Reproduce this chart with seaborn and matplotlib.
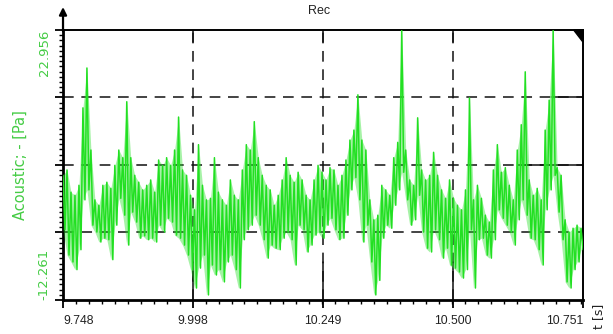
import numpy as np
import pandas as pd
import matplotlib
matplotlib.use("Agg")
import matplotlib.pyplot as plt
from matplotlib.ticker import AutoMinorLocator, FixedLocator
from matplotlib.patches import Polygon
import seaborn as sns

# Acoustic pressure record: local maxima / minima of the signal, in Pa,
# taken pairwise along the time window.
peaks = [4.0, 4.7, 1.8, 1.4, 2.7, 12.8, 18.0, 7.3, 0.8, 0.1,
         2.7, 3.1, 2.3, 5.3, 7.3, 6.3, 13.6, 6.3, 4.0, 3.1,
         2.1, 2.7, 3.4, 1.8, 6.0, 5.3, 6.3, 5.3, 7.3, 11.6,
         4.7, 4.0, 1.4, -0.5, 8.0, 2.7, 0.8, 1.0, 6.3, 1.8,
         0.8, 0.1, 3.4, 1.4, 0.8, 4.7, 8.0, 7.3, 11.0, 6.3,
         4.0, 2.7, 2.1, 0.1, 1.4, 3.4, 6.3, 4.0, 3.1, 4.4,
         3.4, 1.4, 0.8, 3.4, 5.3, 4.4, 3.4, 5.0, 4.7, 2.7,
         4.0, 6.0, 8.6, 9.9, 14.5, 8.6, 7.3, 0.8, -1.8, -1.2,
         2.7, 2.1, 1.4, 6.3, 8.3, 22.9, 7.3, 3.4, 2.7, 11.5,
         4.7, 3.4, 4.0, 7.0, 4.0, 2.1, 1.0, 3.4, 1.0, 0.1,
         -0.5, 2.1, 14.1, 0.8, 2.7, 1.0, -1.2, -2.1, 4.7, 8.0,
         4.4, 5.0, 2.7, 0.8, 7.3, 10.6, 17.5, 3.4, 1.4, 2.3,
         0.8, 9.9, 13.8, 22.9, 5.0, 4.0, -1.8, -3.4, -2.9, -2.5,
         -2.9]
troughs = [-3.1, -6.4, -7.3, -8.3, -5.7, 0.8, 2.1, -2.5, -3.4, -4.7,
           -4.2, -4.4, -7.0, -2.5, 1.0, -1.2, -5.1, -0.8, -2.1, -4.2,
           -3.9, -4.4, -4.2, -4.7, -2.5, -3.4, -1.6, -2.1, -3.8, -4.2,
           -5.1, -6.4, -8.3, -10.7, -8.1, -6.4, -11.6, -7.7, -9.0, -8.3,
           -9.9, -7.3, -6.4, -8.3, -10.7, -4.4, -3.1, -2.5, -1.2, -2.5,
           -4.4, -6.8, -5.1, -5.5, -5.7, -4.2, -3.4, -4.4, -7.7, -2.5,
           -3.1, -6.0, -5.1, -3.8, -3.4, -4.2, -2.5, -1.6, -3.1, -4.4,
           -4.2, -1.2, 2.1, 3.7, 0.8, -4.7, -2.5, -7.3, -11.6, -9.7,
           -4.2, -2.5, -2.9, 0.1, 2.1, 4.4, 0.8, -2.5, -1.8, 1.4,
           -3.4, -5.5, -6.0, -3.1, -4.4, -6.8, -5.5, -7.7, -8.1, -8.6,
           -9.4, -8.3, -3.1, -10.7, -4.4, -4.2, -6.4, -6.8, -4.4, -0.5,
           -1.6, -2.5, -3.4, -5.1, -1.8, 0.8, -1.2, -4.2, -4.4, -5.7,
           -7.7, -0.5, 2.1, 4.0, -0.8, -4.4, -9.9, -10.7, -8.3, -7.3,
           -5.7]

t_start, t_end = 9.748, 10.751
y_min, y_max = -12.261, 22.956
x_ticks = [9.748, 9.998, 10.249, 10.500, 10.751]
x_tick_labels = ["9.748", "9.998", "10.249", "10.500", "10.751"]
y_tick_labels = ["-12.261", "22.956"]

signal = np.column_stack([peaks, troughs]).ravel()
time = np.linspace(t_start, t_end, len(signal))
df = pd.DataFrame({"t": time, "p": signal})
t_env = time[::2]

sns.set_theme(style="white")
plt.rcParams["font.family"] = ["Liberation Sans", "DejaVu Sans"]

GREEN = "#22e022"
LABEL_GREEN = "#44cc44"
TEXT = "#222222"

fig = plt.figure(figsize=(6.13, 3.34), dpi=100)
ax = fig.add_axes([0.1028, 0.1018, 0.8483, 0.8084])

# dense oscillation band between successive extrema, then the trace itself
ax.fill_between(t_env, troughs, peaks, color=GREEN, alpha=0.4, lw=0,
                zorder=3)
sns.lineplot(data=df, x="t", y="p", ax=ax, color=GREEN, lw=1.1,
             estimator=None, sort=False, zorder=3)

ax.set_xlim(t_start, t_end)
ax.set_ylim(y_min, y_max)

# grid: quarters of the value range, major time ticks
y_grid = np.linspace(y_min, y_max, 5)
grid_kw = dict(color="#111111", lw=1.1, dashes=(7, 5), zorder=2)
for gx in x_ticks[1:-1]:
    ax.axvline(gx, **grid_kw)
for gy in y_grid[1:-1]:
    ax.axhline(gy, **grid_kw)
# solid stretches of the grid near the frame
solid_kw = dict(color="#111111", lw=1.1, zorder=2)
for gx in x_ticks[1:-1]:
    ax.axvline(gx, ymin=0, ymax=0.14, **solid_kw)
    ax.axvline(gx, ymin=0.955, ymax=1, **solid_kw)
ax.axhline(y_grid[3], xmin=0.94, xmax=1, **solid_kw)
ax.axhline(y_grid[2], xmin=0.875, xmax=1, **solid_kw)

# x axis ticks
ax.xaxis.set_major_locator(FixedLocator(x_ticks))
ax.set_xticklabels(x_tick_labels)
ax.xaxis.set_minor_locator(AutoMinorLocator(10))
ax.tick_params(axis="x", which="major", direction="out", length=6, width=1.3,
               colors="black", labelsize=8.8, pad=5, bottom=True)
ax.tick_params(axis="x", which="minor", direction="out", length=3, width=1.0,
               color="black", bottom=True)
xl = ax.get_xticklabels()
xl[0].set_ha("left")
xl[-1].set_ha("right")
for lab in xl:
    lab.set_color(TEXT)

# y axis ticks: labels only at the range limits
ax.yaxis.set_major_locator(FixedLocator(list(y_grid)))
ax.set_yticklabels([y_tick_labels[0], "", "", "", y_tick_labels[1]])
ax.yaxis.set_minor_locator(AutoMinorLocator(13))
ax.tick_params(axis="y", which="major", direction="out", length=6, width=1.3,
               color="black", pad=3, left=True)
ax.tick_params(axis="y", which="minor", direction="out", length=3, width=1.0,
               color="black", left=True)
yl = ax.get_yticklabels()
for lab in yl:
    lab.set_rotation(90)
    lab.set_color(LABEL_GREEN)
    lab.set_ha("right")
    lab.set_family(["DejaVu Sans"])
    lab.set_fontsize(9.5)
yl[0].set_va("bottom")
yl[-1].set_va("top")

ax.set_xlabel("")
ax.set_ylabel("Acoustic; - [Pa]", color=LABEL_GREEN, fontsize=10.5,
              family=["DejaVu Sans"])
ax.yaxis.set_label_coords(-0.068, 0.5)

ax.text(1.029, -0.06, "t [s]", transform=ax.transAxes, rotation=90,
        ha="center", va="center", fontsize=9, color=TEXT,
        family=["DejaVu Sans"])
ax.text(0.492, 1.072, "Rec", transform=ax.transAxes, ha="center",
        va="center", fontsize=9, color=TEXT)

for side in ["left", "bottom", "top", "right"]:
    ax.spines[side].set_visible(True)
    ax.spines[side].set_color("black")
ax.spines["left"].set_linewidth(2.0)
ax.spines["bottom"].set_linewidth(2.0)
ax.spines["top"].set_linewidth(1.4)
ax.spines["right"].set_linewidth(1.4)

# arrow on top of the value axis
ax.annotate("", xy=(0, 1.085), xytext=(0, 0.995), xycoords="axes fraction",
            textcoords="axes fraction",
            arrowprops=dict(arrowstyle="-|>", color="black", lw=1.6,
                            mutation_scale=11, shrinkA=0, shrinkB=0),
            annotation_clip=False)

# corner marker, top right
ax.add_patch(Polygon([(1, 1), (0.982, 1), (1, 0.955)], closed=True,
                     transform=ax.transAxes, color="black", clip_on=False,
                     zorder=5))

fig.savefig("out.png", dpi=100)
